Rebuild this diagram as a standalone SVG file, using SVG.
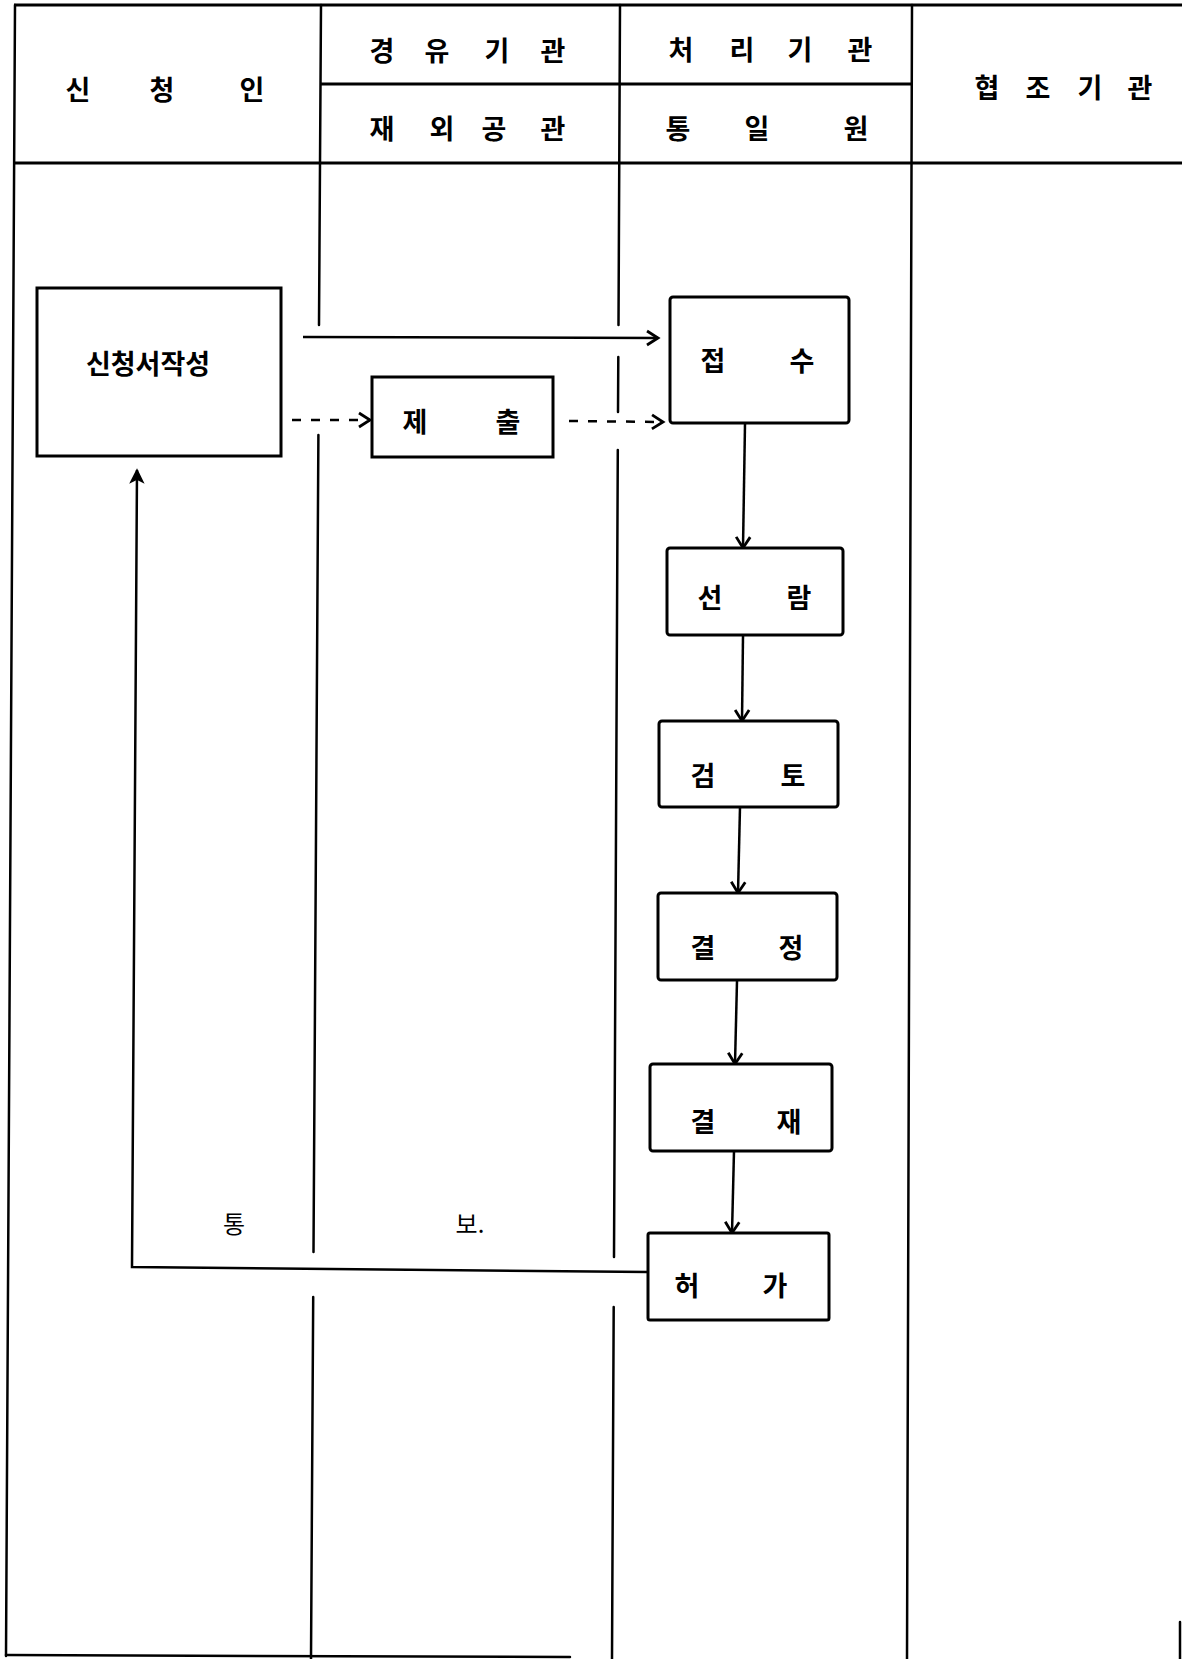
<svg xmlns="http://www.w3.org/2000/svg" width="1182" height="1659" viewBox="0 0 1182 1659">
  <style>
    .ln { stroke: #000; stroke-width: 2.5; fill: none; stroke-linecap: round; }
    .hd { stroke: #000; stroke-width: 3; fill: none; }
    .box { fill: #fff; stroke: #000; stroke-width: 3; }
    .t { font-family: "Noto Sans CJK KR", "Noto Sans", sans-serif; font-size: 27px; font-weight: 700; fill: #000; text-anchor: middle; dominant-baseline: central; }
    .t2 { font-family: "Noto Sans CJK KR", "Noto Sans", sans-serif; font-size: 24px; font-weight: 400; fill: #000; text-anchor: middle; dominant-baseline: central; }
    .c { stroke: #000; stroke-width: 2.5; fill: none; }
    .d { stroke-dasharray: 9 10; }
  </style>
  <defs>
    <marker id="arr" markerUnits="userSpaceOnUse" markerWidth="18" markerHeight="18" refX="14" refY="9" orient="auto">
      <path d="M3,2 L14,9 L3,16" fill="none" stroke="#000" stroke-width="2.8"/>
    </marker>
    <marker id="arrf" markerUnits="userSpaceOnUse" markerWidth="18" markerHeight="16" refX="14" refY="8" orient="auto">
      <path d="M2,2 L14,8 L2,14 L5,8 Z" fill="#000" stroke="#000" stroke-width="1.5"/>
    </marker>
  </defs>

  <rect x="0" y="0" width="1182" height="1659" fill="#fff"/>

  <g id="frame">
    <line class="hd" x1="14" y1="5" x2="1182" y2="5"/>
    <line class="hd" x1="14" y1="163" x2="1182" y2="163"/>
    <line class="hd" x1="320" y1="84" x2="912" y2="84"/>
    <line class="ln" x1="15" y1="5" x2="6" y2="1656"/>
    <line class="ln" x1="321" y1="5" x2="319" y2="325"/>
    <line class="ln" x1="318.4" y1="435" x2="313.5" y2="1252"/>
    <line class="ln" x1="313.2" y1="1297" x2="311" y2="1659"/>
    <line class="ln" x1="620" y1="5" x2="618.5" y2="325"/>
    <line class="ln" x1="618.3" y1="357" x2="618" y2="412"/>
    <line class="ln" x1="617.8" y1="450" x2="614" y2="1257"/>
    <line class="ln" x1="613.7" y1="1307" x2="612" y2="1659"/>
    <line class="ln" x1="912" y1="5" x2="907" y2="1659"/>
    <line class="ln" x1="6" y1="1655" x2="570" y2="1657"/>
    <line class="ln" x1="1180" y1="1622" x2="1180" y2="1659" stroke-width="1.5"/>
  </g>

  <g id="header">
    <text class="t" x="78" y="88">신</text>
    <text class="t" x="162" y="88">청</text>
    <text class="t" x="252" y="88">인</text>

    <text class="t" x="382" y="49">경</text>
    <text class="t" x="437" y="49">유</text>
    <text class="t" x="497" y="49">기</text>
    <text class="t" x="553" y="49">관</text>

    <text class="t" x="382" y="127">재</text>
    <text class="t" x="442" y="127">외</text>
    <text class="t" x="494" y="127">공</text>
    <text class="t" x="553" y="127">관</text>

    <text class="t" x="681" y="48">처</text>
    <text class="t" x="742" y="48">리</text>
    <text class="t" x="800" y="48">기</text>
    <text class="t" x="860" y="48">관</text>

    <text class="t" x="678" y="127">통</text>
    <text class="t" x="757" y="127">일</text>
    <text class="t" x="856" y="127">원</text>

    <text class="t" x="987" y="86">협</text>
    <text class="t" x="1038" y="86">조</text>
    <text class="t" x="1090" y="86">기</text>
    <text class="t" x="1140" y="86">관</text>
  </g>

  <g id="connectors">
    <line class="c" x1="303" y1="337" x2="658" y2="338" marker-end="url(#arr)"/>
    <line class="c d" x1="292" y1="420" x2="370" y2="420" marker-end="url(#arr)"/>
    <line class="c d" x1="569" y1="421" x2="663" y2="422" marker-end="url(#arr)"/>
    <line class="c" x1="745" y1="424" x2="743" y2="548" marker-end="url(#arr)"/>
    <line class="c" x1="743" y1="636" x2="742" y2="721" marker-end="url(#arr)"/>
    <line class="c" x1="740" y1="807" x2="738" y2="893" marker-end="url(#arr)"/>
    <line class="c" x1="737" y1="981" x2="735" y2="1064" marker-end="url(#arr)"/>
    <line class="c" x1="734" y1="1151" x2="732" y2="1233" marker-end="url(#arr)"/>
    <polyline class="c" points="648,1272 132,1267 137,470" marker-end="url(#arrf)"/>
    <text class="t2" x="234" y="1222">통</text>
    <text class="t2" x="470" y="1222">보.</text>
  </g>

  <g id="n-apply">
    <rect class="box" x="37" y="288" width="244" height="168"/>
    <text class="t" x="148" y="362">신청서작성</text>
  </g>
  <g id="n-submit">
    <rect class="box" x="372" y="377" width="181" height="80"/>
    <text class="t" x="415" y="420">제</text>
    <text class="t" x="508" y="420">출</text>
  </g>
  <g id="n-receive">
    <rect class="box" x="670" y="297" width="179" height="126" rx="3"/>
    <text class="t" x="713" y="359">접</text>
    <text class="t" x="802" y="359">수</text>
  </g>
  <g id="n-circulate">
    <rect class="box" x="667" y="548" width="176" height="87" rx="3"/>
    <text class="t" x="710" y="596">선</text>
    <text class="t" x="799" y="596">람</text>
  </g>
  <g id="n-review">
    <rect class="box" x="659" y="721" width="179" height="86" rx="3"/>
    <text class="t" x="703" y="774">검</text>
    <text class="t" x="793" y="774">토</text>
  </g>
  <g id="n-decide">
    <rect class="box" x="658" y="893" width="179" height="87" rx="3"/>
    <text class="t" x="703" y="946">결</text>
    <text class="t" x="791" y="946">정</text>
  </g>
  <g id="n-approve">
    <rect class="box" x="650" y="1064" width="182" height="87" rx="3"/>
    <text class="t" x="703" y="1120">결</text>
    <text class="t" x="789" y="1120">재</text>
  </g>
  <g id="n-permit">
    <rect class="box" x="648" y="1233" width="181" height="87" rx="2"/>
    <text class="t" x="687" y="1284">허</text>
    <text class="t" x="775" y="1284">가</text>
  </g>
</svg>
